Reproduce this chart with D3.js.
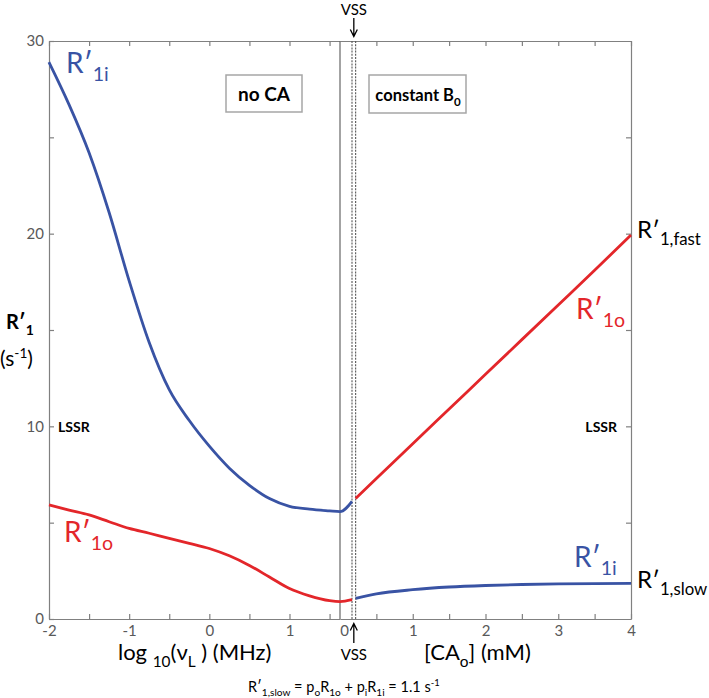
<!DOCTYPE html>
<html>
<head>
<meta charset="utf-8">
<script src="https://cdn.jsdelivr.net/npm/d3@7"></script>
<style>
  html, body { margin: 0; padding: 0; background: #fff; }
  svg { display: block; font-family: Lato, "Open Sans", sans-serif; }
</style>
</head>
<body>
<svg id="chart" width="709" height="698"></svg>
<script>
// ---------- data ----------
const logNu    = [-2, -1.75, -1.5, -1.25, -1, -0.75, -0.5, -0.25, 0, 0.25, 0.5, 0.75, 1, 1.25, 1.5, 1.63, 1.78];
const R1iLeft  = [28.9, 26.7, 24.2, 21.1, 17.55, 14.35, 11.9, 10.3, 8.97, 7.83, 6.94, 6.25, 5.85, 5.7, 5.61, 5.57, 6.1];
const R1oLeft  = [5.92, 5.65, 5.4, 5.05, 4.7, 4.45, 4.18, 3.93, 3.66, 3.28, 2.78, 2.18, 1.58, 1.2, 0.95, 0.9, 1.0];

const caConc   = [0.215, 0.5, 1, 1.5, 2, 2.5, 3, 3.5, 4];
const R1oRight = [6.26, 7.29, 9.1, 10.9, 12.7, 14.5, 16.3, 18.1, 19.93];
const R1iRight = [1.07, 1.3, 1.52, 1.66, 1.74, 1.79, 1.82, 1.84, 1.85];

const yTicks       = [0, 5, 10, 15, 20, 25, 30];
const yTickLabels  = [0, 10, 20, 30];
const xLeftTicks   = [-2, -1.5, -1, -0.5, 0, 0.5, 1, 1.5];
const xLeftLabels  = [-2, -1, 0, 1];
const xRightTicks  = [0, 0.5, 1, 1.5, 2, 2.5, 3, 3.5, 4];
const xRightLabels = [0, 1, 2, 3, 4];
const vssCA        = [0.165, 0.215];   // VSS double dashed lines (in CA units)

// ---------- layout ----------
const svg = d3.select('#chart');
const pTop = 41, pBottom = 619, pLeft = 49, pRight = 631, pMid = 340;
const y  = d3.scaleLinear().domain([0, 30]).range([pBottom, pTop]);
const xL = d3.scaleLinear().domain([-2, 1.63]).range([pLeft, pMid]);
const xR = d3.scaleLinear().domain([0, 4]).range([pMid, pRight]);

const axisColor = '#808080', labelColor = '#595959';
const blue = '#3953a4', red = '#e3262a';

function styleAxis(g) {
  g.selectAll('path.domain').attr('stroke', axisColor).attr('stroke-width', 1.2);
  g.selectAll('.tick line').attr('stroke', axisColor).attr('stroke-width', 1.2);
  g.selectAll('.tick text').attr('fill', labelColor).style('font-size', '15px')
    .style('font-family', 'Lato, sans-serif');
}

// left y axis
svg.append('g').attr('transform', `translate(${pLeft},0)`)
  .call(d3.axisLeft(y).tickValues(yTicks).tickSizeInner(-5).tickSizeOuter(0).tickPadding(5)
    .tickFormat(d => yTickLabels.includes(d) ? d : ''))
  .call(styleAxis);
// right y axis
svg.append('g').attr('transform', `translate(${pRight},0)`)
  .call(d3.axisRight(y).tickValues(yTicks.slice(1, -1)).tickSizeInner(-5).tickSizeOuter(0).tickFormat(''))
  .call(styleAxis);
// bottom axes
svg.append('g').attr('transform', `translate(0,${pBottom})`)
  .call(d3.axisBottom(xL).tickValues(xLeftTicks).tickSizeInner(-5).tickSizeOuter(0).tickPadding(6)
    .tickFormat(d => xLeftLabels.includes(d) ? d : ''))
  .call(styleAxis);
const bR = svg.append('g').attr('transform', `translate(0,${pBottom})`)
  .call(d3.axisBottom(xR).tickValues(xRightTicks).tickSizeInner(-5).tickSizeOuter(0).tickPadding(6)
    .tickFormat(d => xRightLabels.includes(d) ? d : ''))
  .call(styleAxis);
bR.selectAll('.tick').filter(d => d === 0).select('text').attr('x', 4);
bR.selectAll('.tick').filter(d => d === 0).select('line').remove();
// top axes
svg.append('g').attr('transform', `translate(0,${pTop})`)
  .call(d3.axisTop(xL).tickValues(xLeftTicks).tickSizeInner(-5).tickSizeOuter(0).tickFormat(''))
  .call(styleAxis);
const tR = svg.append('g').attr('transform', `translate(0,${pTop})`)
  .call(d3.axisTop(xR).tickValues(xRightTicks).tickSizeInner(-5).tickSizeOuter(0).tickFormat(''))
  .call(styleAxis);
tR.selectAll('.tick').filter(d => d === 0).select('line').remove();

// separators
svg.append('line').attr('x1', xR(0)).attr('x2', xR(0)).attr('y1', pTop).attr('y2', pBottom)
  .attr('stroke', '#666').attr('stroke-width', 1.2);
vssCA.forEach(c => {
  svg.append('line').attr('x1', xR(c)).attr('x2', xR(c)).attr('y1', pTop).attr('y2', pBottom)
    .attr('stroke', '#555').attr('stroke-width', 1.1).attr('stroke-dasharray', '2,1.2');
});

// ---------- curves ----------
const lineL = d3.line().x(d => xL(d[0])).y(d => y(d[1])).curve(d3.curveMonotoneX);
const lineR = d3.line().x(d => xR(d[0])).y(d => y(d[1])).curve(d3.curveMonotoneX);
function draw(gen, xs, ys, color) {
  svg.append('path').datum(xs.map((v, i) => [v, ys[i]]))
    .attr('d', gen).attr('fill', 'none').attr('stroke', color)
    .attr('stroke-width', 2.8).attr('stroke-linejoin', 'round');
}
draw(lineL, logNu, R1iLeft, blue);
draw(lineL, logNu, R1oLeft, red);
draw(lineR, caConc, R1oRight, red);
draw(lineR, caConc, R1iRight, blue);

// ---------- text helpers ----------
// segments: [text, mode] mode: 0 normal, 1 sub, 2 sup
function rich(x, yy, segs, size, color, weight, anchor) {
  const t = svg.append('text').attr('x', x).attr('y', yy).attr('fill', color || '#000')
    .style('font-size', size + 'px').style('font-weight', weight || 'normal')
    .attr('text-anchor', anchor || 'start');
  let off = 0;
  segs.forEach(([txt, mode]) => {
    const s = t.append('tspan').text(txt);
    let target = 0;
    if (mode === 1) { target = size * 0.3; s.style('font-size', (size * 0.7) + 'px'); }
    if (mode === 2) { target = -size * 0.4; s.style('font-size', (size * 0.65) + 'px'); }
    if (target !== off) { s.attr('dy', target - off); off = target; }
  });
  return t;
}
function rLabel(x, yy, sub, size, color) {
  return rich(x, yy, [['R′', 0], [sub, 1]], size, color);
}

// curve labels
rLabel(66, 73, '1i', 28, blue);
rLabel(64, 542, '1o', 28, red);
rLabel(576, 319, '1o', 28, red);
rLabel(574, 567, '1i', 28, blue);
rLabel(637, 238, '1,fast', 24, '#000');
rLabel(637, 588, '1,slow', 24, '#000');

// y axis title
rich(6, 329, [['R′', 0], ['1', 1]], 20, '#000', 'bold');
rich(0, 366, [['(s', 0], ['-1', 2], [')', 0]], 21, '#000');

// LSSR
svg.append('text').attr('x', 58).attr('y', 432).text('LSSR')
  .style('font-size', '14px').style('font-weight', 'bold');
svg.append('text').attr('x', 617).attr('y', 432).attr('text-anchor', 'end').text('LSSR')
  .style('font-size', '14px').style('font-weight', 'bold');

// boxes
svg.append('rect').attr('x', 226).attr('y', 75).attr('width', 76).attr('height', 37)
  .attr('fill', '#fff').attr('stroke', '#a6a6a6').attr('stroke-width', 1.5);
svg.append('text').attr('x', 264).attr('y', 101).attr('text-anchor', 'middle').text('no CA')
  .style('font-size', '19px').style('font-weight', 'bold');
svg.append('rect').attr('x', 369).attr('y', 75).attr('width', 97).attr('height', 38)
  .attr('fill', '#fff').attr('stroke', '#a6a6a6').attr('stroke-width', 1.5);
rich(418, 101, [['constant B', 0], ['0', 1]], 16.5, '#000', 'bold', 'middle');

// VSS annotations
const vx = (xR(vssCA[0]) + xR(vssCA[1])) / 2;
svg.append('text').attr('x', vx).attr('y', 15).attr('text-anchor', 'middle').text('VSS').style('font-size', '15px');
svg.append('path').attr('d', `M${vx},18 V36 M${vx - 3.5},29.5 L${vx},36.5 L${vx + 3.5},29.5`)
  .attr('fill', 'none').attr('stroke', '#000').attr('stroke-width', 1.3);
svg.append('text').attr('x', vx).attr('y', 660).attr('text-anchor', 'middle').text('VSS').style('font-size', '15px');
svg.append('path').attr('d', `M${vx},643 V624 M${vx - 3.5},630.5 L${vx},623.5 L${vx + 3.5},630.5`)
  .attr('fill', 'none').attr('stroke', '#000').attr('stroke-width', 1.3);

// x axis titles
rich(118, 660, [['log ', 0], ['10', 1], ['(ν', 0], ['L', 1], [' ) (MHz)', 0]], 22, '#000');
rich(424, 660, [['[CA', 0], ['o', 1], ['] (mM)', 0]], 22, '#000');

// formula
rich(248, 692, [['R′', 0], ['1,slow', 1], [' = p', 0], ['o', 1], ['R', 0], ['1o', 1], [' + p', 0], ['i', 1],
  ['R', 0], ['1i', 1], [' = 1.1 s', 0], ['-1', 2]], 14.5, '#000');
</script>
</body>
</html>
